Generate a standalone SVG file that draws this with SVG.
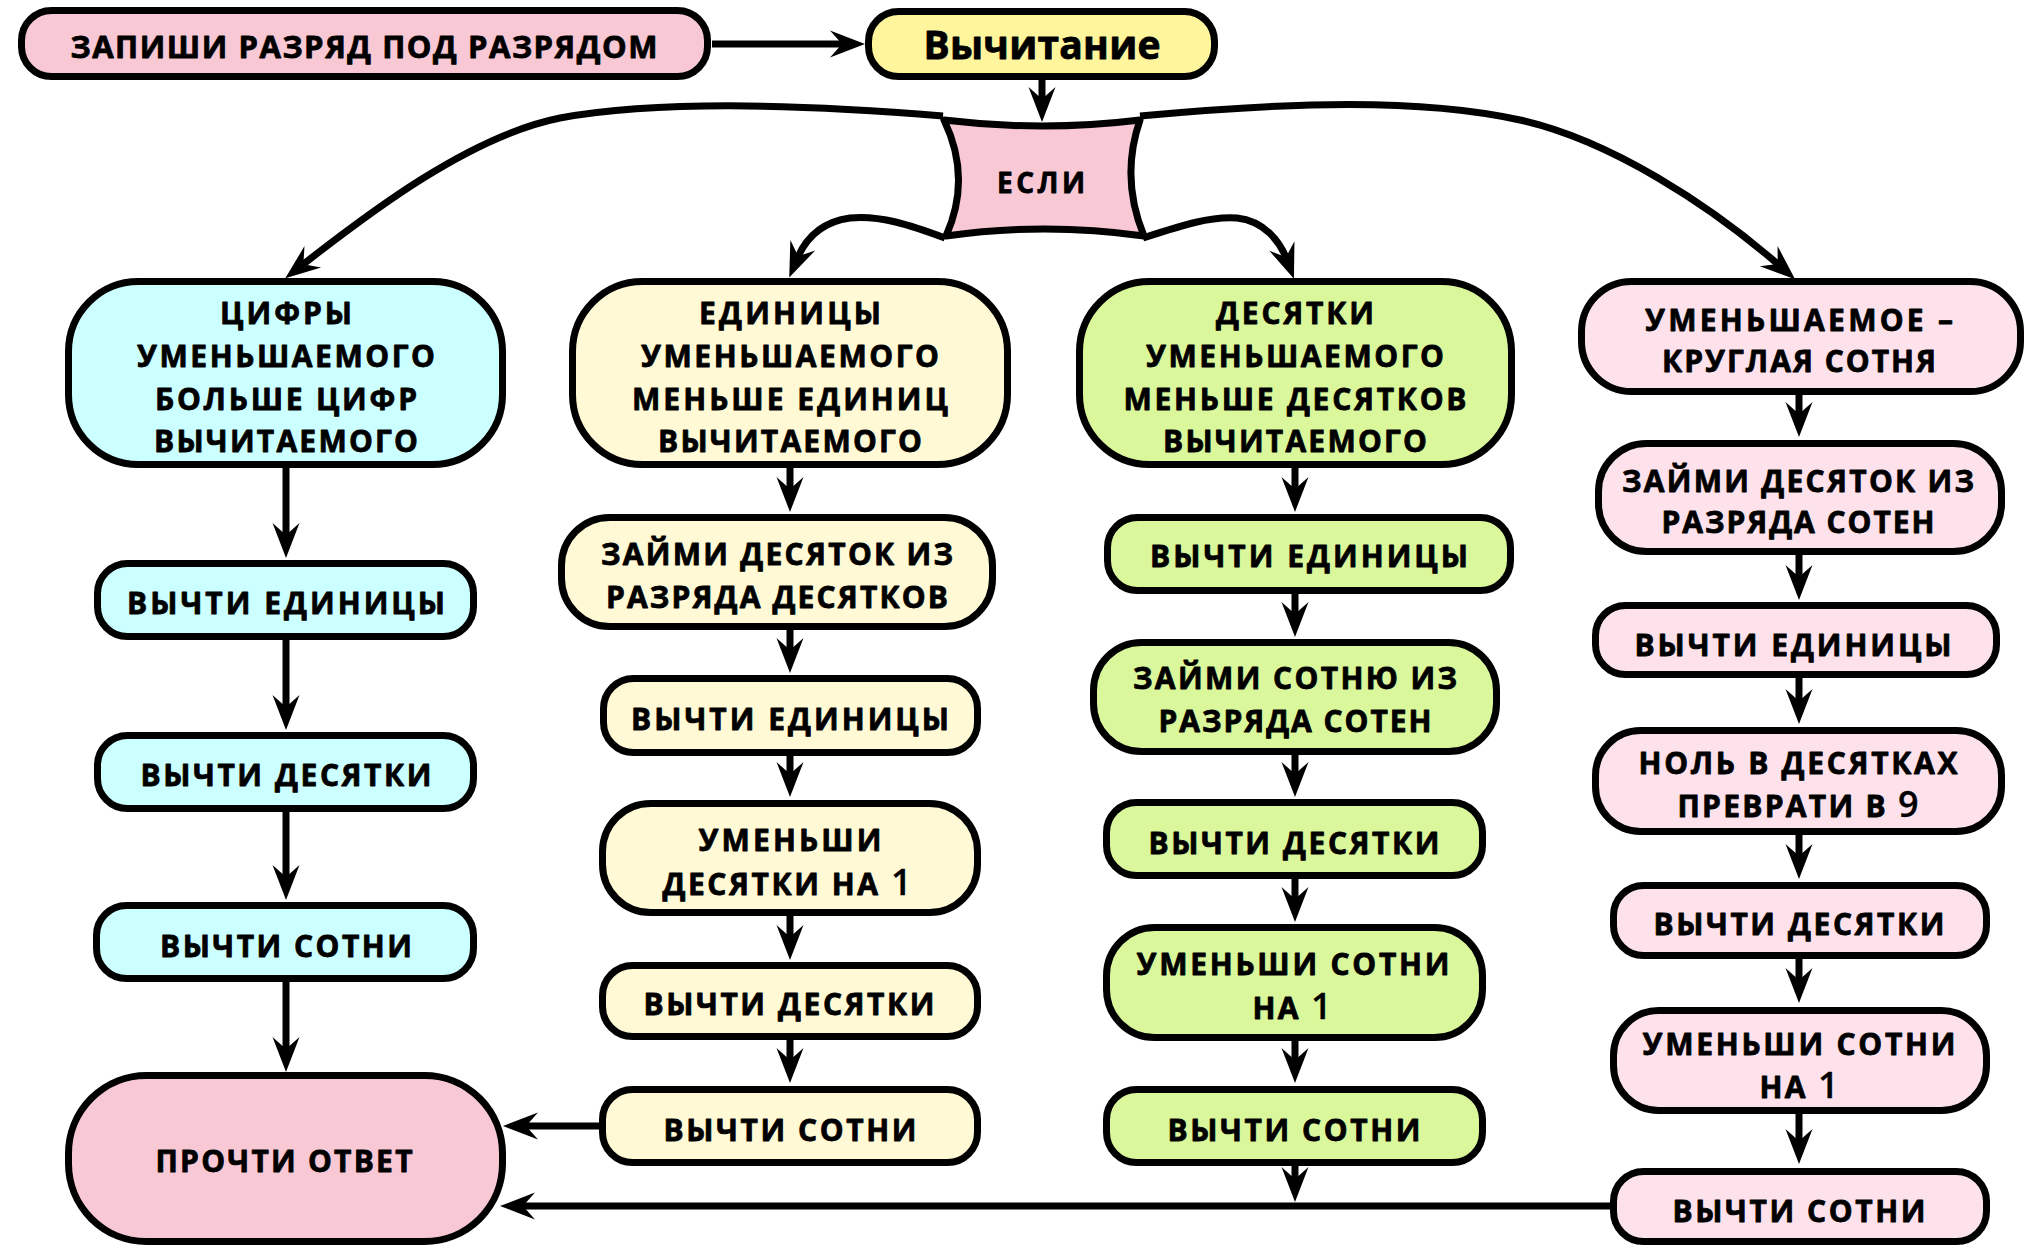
<svg xmlns="http://www.w3.org/2000/svg" width="2036" height="1248" viewBox="0 0 2036 1248">
<style>
.b{stroke:#000;stroke-width:7;stroke-linejoin:round}
.pk{fill:#F8C8D4}.yl{fill:#FFF59D}.cy{fill:#CCFFFF}.ly{fill:#FFF9D6}.gr{fill:#DAF79B}.lp{fill:#FDE2EC}
.t{font-family:"Open Sans","Noto Sans","DejaVu Sans",sans-serif;font-weight:700;font-size:30px;text-anchor:middle;fill:#000;stroke:#000;stroke-width:0.8px;stroke-linejoin:round}
.d{font-size:36px;font-weight:600;stroke-width:0.3px}
.c{fill:none;stroke:#000;stroke-width:7;marker-end:url(#ah)}
</style>
<defs>
<marker id="ah" markerUnits="userSpaceOnUse" markerWidth="60" markerHeight="40" viewBox="-20 -20 60 40" refX="0" refY="0" orient="auto" overflow="visible">
<path d="M20,0 L-15,-13.5 L-3,0 L-15,13.5 Z" fill="#000"/>
</marker>
</defs>
<rect width="2036" height="1248" fill="#fff"/>

<g id="connectors">
<line class="c" x1="712" y1="44" x2="845" y2="44"/>
<line class="c" x1="1042" y1="80" x2="1042" y2="102"/>
<path class="c" d="M943,116 C800,104 660,100 560,118 C470,136 370,212 301,266"/>
<path class="c" d="M1140,116 C1290,102 1420,98 1520,120 C1610,140 1710,205 1780,266"/>
<path class="c" d="M945,238 C910,225 880,215 850,218 C820,222 805,240 797,259"/>
<path class="c" d="M1143,238 C1180,226 1210,216 1237,218 C1264,221 1280,241 1287,260"/>
<line class="c" x1="286" y1="468" x2="286" y2="538"/>
<line class="c" x1="286" y1="640" x2="286" y2="710"/>
<line class="c" x1="286" y1="812" x2="286" y2="880"/>
<line class="c" x1="286" y1="982" x2="286" y2="1052"/>
<line class="c" x1="790" y1="468" x2="790" y2="492"/>
<line class="c" x1="790" y1="630" x2="790" y2="653"/>
<line class="c" x1="790" y1="756" x2="790" y2="777"/>
<line class="c" x1="790" y1="916" x2="790" y2="940"/>
<line class="c" x1="790" y1="1040" x2="790" y2="1063"/>
<line class="c" x1="1295" y1="468" x2="1295" y2="492"/>
<line class="c" x1="1295" y1="594" x2="1295" y2="617"/>
<line class="c" x1="1295" y1="755" x2="1295" y2="777"/>
<line class="c" x1="1295" y1="879" x2="1295" y2="902"/>
<line class="c" x1="1295" y1="1041" x2="1295" y2="1063"/>
<line class="c" x1="1295" y1="1166" x2="1295" y2="1182"/>
<line class="c" x1="1799" y1="395" x2="1799" y2="417"/>
<line class="c" x1="1799" y1="555" x2="1799" y2="580"/>
<line class="c" x1="1799" y1="678" x2="1799" y2="704"/>
<line class="c" x1="1799" y1="835" x2="1799" y2="859"/>
<line class="c" x1="1799" y1="959" x2="1799" y2="983"/>
<line class="c" x1="1799" y1="1114" x2="1799" y2="1144"/>
<line class="c" x1="599" y1="1126" x2="523" y2="1126"/>
<line class="c" x1="1610" y1="1206" x2="520" y2="1206"/>
</g>

<g id="n-zapishi"><rect class="b pk" x="21.5" y="10.5" width="686" height="66" rx="30"/><text class="t" x="364" y="58" style="font-size:31px" textLength="587">ЗАПИШИ РАЗРЯД ПОД РАЗРЯДОМ</text></g>
<g id="n-vychitanie"><rect class="b yl" x="868.5" y="11.5" width="346" height="65" rx="30"/><text class="t" x="1042" y="59" style="font-size:39px" textLength="237">Вычитание</text></g>
<g id="n-esli"><path class="b pk" d="M944,120 Q1042,132 1140,120 Q1120,178 1144,236 Q1044,222 946,236 Q972,178 944,120 Z"/><text class="t" x="1041" y="193" style="font-size:28px" textLength="88">ЕСЛИ</text></g>

<g id="c1-top"><rect class="b cy" x="68.5" y="281.5" width="434" height="183" rx="70"/>
<text class="t" x="286" y="324" textLength="132">ЦИФРЫ</text>
<text class="t" x="286" y="367" textLength="298">УМЕНЬШАЕМОГО</text>
<text class="t" x="286" y="410" textLength="262">БОЛЬШЕ ЦИФР</text>
<text class="t" x="286" y="452" textLength="264">ВЫЧИТАЕМОГО</text></g>
<g id="c1-ed"><rect class="b cy" x="97.5" y="563.5" width="376" height="73" rx="30"/><text class="t" x="286" y="614" textLength="318">ВЫЧТИ ЕДИНИЦЫ</text></g>
<g id="c1-des"><rect class="b cy" x="97.5" y="735.5" width="376" height="73" rx="30"/><text class="t" x="286" y="786" textLength="291">ВЫЧТИ ДЕСЯТКИ</text></g>
<g id="c1-sot"><rect class="b cy" x="96.5" y="905.5" width="377" height="73" rx="30"/><text class="t" x="286" y="957" textLength="252">ВЫЧТИ СОТНИ</text></g>
<g id="n-otvet"><rect class="b pk" x="68.5" y="1075.5" width="434" height="166" rx="78"/><text class="t" x="284" y="1172" textLength="257">ПРОЧТИ ОТВЕТ</text></g>

<g id="c2-top"><rect class="b ly" x="572.5" y="281.5" width="435" height="183" rx="70"/>
<text class="t" x="790" y="324" textLength="182">ЕДИНИЦЫ</text>
<text class="t" x="790" y="367" textLength="298">УМЕНЬШАЕМОГО</text>
<text class="t" x="790" y="410" textLength="316">МЕНЬШЕ ЕДИНИЦ</text>
<text class="t" x="790" y="452" textLength="264">ВЫЧИТАЕМОГО</text></g>
<g id="c2-zaimi"><rect class="b ly" x="561.5" y="517.5" width="431" height="109" rx="48"/>
<text class="t" x="777" y="565" textLength="352">ЗАЙМИ ДЕСЯТОК ИЗ</text>
<text class="t" x="777" y="608" textLength="342">РАЗРЯДА ДЕСЯТКОВ</text></g>
<g id="c2-ed"><rect class="b ly" x="603.5" y="678.5" width="374" height="74" rx="30"/><text class="t" x="790" y="730" textLength="318">ВЫЧТИ ЕДИНИЦЫ</text></g>
<g id="c2-um"><rect class="b ly" x="602.5" y="803.5" width="375" height="109" rx="48"/>
<text class="t" x="790" y="851" textLength="183">УМЕНЬШИ</text>
<text class="t" x="787" y="895" textLength="249">ДЕСЯТКИ НА <tspan class="d">1</tspan></text></g>
<g id="c2-des"><rect class="b ly" x="602.5" y="965.5" width="375" height="71" rx="30"/><text class="t" x="789" y="1015" textLength="291">ВЫЧТИ ДЕСЯТКИ</text></g>
<g id="c2-sot"><rect class="b ly" x="602.5" y="1089.5" width="375" height="73" rx="30"/><text class="t" x="790" y="1141" textLength="253">ВЫЧТИ СОТНИ</text></g>

<g id="c3-top"><rect class="b gr" x="1079.5" y="281.5" width="432" height="183" rx="70"/>
<text class="t" x="1295" y="324" textLength="158">ДЕСЯТКИ</text>
<text class="t" x="1295" y="367" textLength="298">УМЕНЬШАЕМОГО</text>
<text class="t" x="1295" y="410" textLength="343">МЕНЬШЕ ДЕСЯТКОВ</text>
<text class="t" x="1295" y="452" textLength="264">ВЫЧИТАЕМОГО</text></g>
<g id="c3-ed"><rect class="b gr" x="1107.5" y="517.5" width="403" height="73" rx="30"/><text class="t" x="1309" y="567" textLength="318">ВЫЧТИ ЕДИНИЦЫ</text></g>
<g id="c3-zaimi"><rect class="b gr" x="1093.5" y="642.5" width="403" height="109" rx="48"/>
<text class="t" x="1295" y="689" textLength="324">ЗАЙМИ СОТНЮ ИЗ</text>
<text class="t" x="1295" y="732" textLength="273">РАЗРЯДА СОТЕН</text></g>
<g id="c3-des"><rect class="b gr" x="1106.5" y="802.5" width="376" height="73" rx="30"/><text class="t" x="1294" y="854" textLength="291">ВЫЧТИ ДЕСЯТКИ</text></g>
<g id="c3-um"><rect class="b gr" x="1106.5" y="927.5" width="376" height="110" rx="48"/>
<text class="t" x="1293" y="975" textLength="313">УМЕНЬШИ СОТНИ</text>
<text class="t" x="1292" y="1019" textLength="79">НА <tspan class="d">1</tspan></text></g>
<g id="c3-sot"><rect class="b gr" x="1106.5" y="1089.5" width="376" height="73" rx="30"/><text class="t" x="1294" y="1141" textLength="253">ВЫЧТИ СОТНИ</text></g>

<g id="c4-top"><rect class="b lp" x="1581.5" y="281.5" width="439" height="110" rx="50"/>
<text class="t" x="1799" y="331" textLength="308">УМЕНЬШАЕМОЕ –</text>
<text class="t" x="1799" y="372" textLength="274">КРУГЛАЯ СОТНЯ</text></g>
<g id="c4-zaimi"><rect class="b lp" x="1598.5" y="443.5" width="403" height="108" rx="48"/>
<text class="t" x="1798" y="492" textLength="352">ЗАЙМИ ДЕСЯТОК ИЗ</text>
<text class="t" x="1798" y="533" textLength="273">РАЗРЯДА СОТЕН</text></g>
<g id="c4-ed"><rect class="b lp" x="1595.5" y="605.5" width="401" height="69" rx="30"/><text class="t" x="1793" y="656" textLength="317">ВЫЧТИ ЕДИНИЦЫ</text></g>
<g id="c4-nol"><rect class="b lp" x="1595.5" y="730.5" width="406" height="101" rx="45"/>
<text class="t" x="1798" y="774" textLength="319">НОЛЬ В ДЕСЯТКАХ</text>
<text class="t" x="1798" y="817" textLength="241">ПРЕВРАТИ В <tspan class="d">9</tspan></text></g>
<g id="c4-des"><rect class="b lp" x="1613.5" y="885.5" width="373" height="70" rx="30"/><text class="t" x="1799" y="935" textLength="291">ВЫЧТИ ДЕСЯТКИ</text></g>
<g id="c4-um"><rect class="b lp" x="1613.5" y="1010.5" width="373" height="100" rx="45"/>
<text class="t" x="1799" y="1055" textLength="313">УМЕНЬШИ СОТНИ</text>
<text class="t" x="1799" y="1098" textLength="79">НА <tspan class="d">1</tspan></text></g>
<g id="c4-sot"><rect class="b lp" x="1613.5" y="1171.5" width="373" height="70" rx="30"/><text class="t" x="1799" y="1222" textLength="253">ВЫЧТИ СОТНИ</text></g>
</svg>
